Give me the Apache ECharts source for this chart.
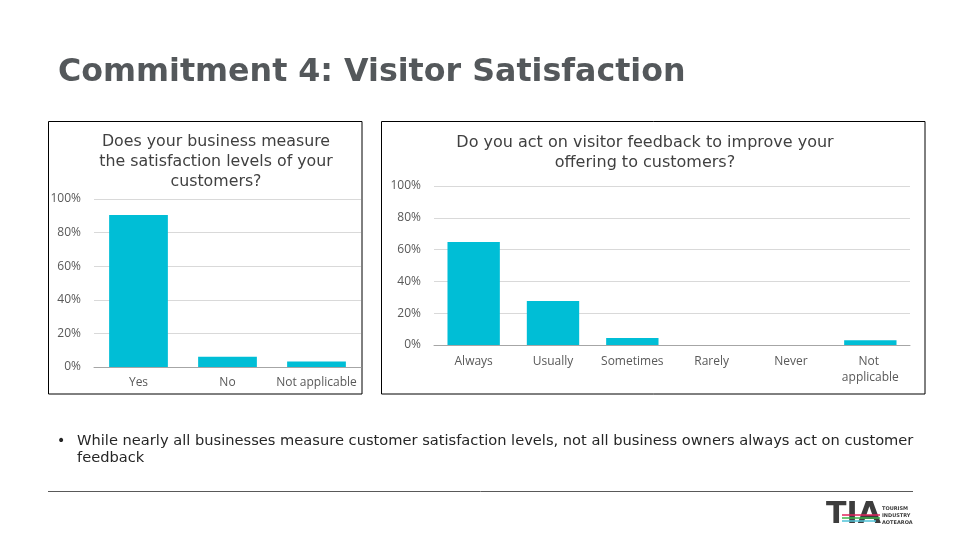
<!DOCTYPE html>
<html>
<head>
<meta charset="utf-8">
<script src="https://cdn.jsdelivr.net/npm/echarts@6/dist/echarts.min.js"></script>
<style>html,body{margin:0;padding:0;background:#fff}#c{width:960px;height:540px}</style>
</head>
<body>
<div id="c"></div>
<script>
const leftCategories = ['Yes', 'No', 'Not applicable'];
const leftValues = [0.905, 0.061, 0.033];
const rightCategories = ['Always', 'Usually', 'Sometimes', 'Rarely', 'Never', 'Not applicable'];
const rightValues = [0.648, 0.276, 0.044, 0, 0, 0.03];
const yTicks = [0, 0.2, 0.4, 0.6, 0.8, 1];

const barColor = '#00BED6';
const labelColor = '#595959';
const chartFont = '"Open Sans"';
const titleFont = '"DejaVu Sans"';

const chart = echarts.init(document.getElementById('c'));
const pct = v => Math.round(v * 100) + '%';

chart.setOption({
  animation: false,
  backgroundColor: '#fff',
  title: [
    {
      text: 'Does your business measure\nthe satisfaction levels of your\ncustomers?',
      left: 211, top: 127, textAlign: 'center',
      textStyle: { fontFamily: titleFont, fontSize: 15.8, fontWeight: 'normal', color: '#404040', lineHeight: 20 }
    },
    {
      text: 'Do you act on visitor feedback to improve your\noffering to customers?',
      left: 640, top: 128, textAlign: 'center',
      textStyle: { fontFamily: titleFont, fontSize: 16, fontWeight: 'normal', color: '#404040', lineHeight: 20 }
    }
  ],
  grid: [
    { left: 94, right: 599, top: 199, bottom: 173 },
    { left: 434, right: 50, top: 186, bottom: 195 }
  ],
  xAxis: [
    {
      gridIndex: 0, type: 'category', data: leftCategories,
      axisLine: { lineStyle: { color: '#a6a6a6' } },
      axisTick: { lineStyle: { color: '#a6a6a6' }, length: 4 },
      axisLabel: { color: labelColor, fontFamily: chartFont, fontSize: 12, margin: 10, interval: 0 }
    },
    {
      gridIndex: 1, type: 'category', data: rightCategories,
      axisLine: { lineStyle: { color: '#a6a6a6' } },
      axisTick: { lineStyle: { color: '#a6a6a6' }, length: 4 },
      axisLabel: { color: labelColor, fontFamily: chartFont, fontSize: 12, margin: 9, interval: 0, width: 72, overflow: 'break', lineHeight: 16 }
    }
  ],
  yAxis: [0, 1].map(i => ({
    gridIndex: i, type: 'value', min: yTicks[0], max: yTicks[yTicks.length - 1], interval: yTicks[1] - yTicks[0],
    axisLine: { show: false }, axisTick: { show: false },
    splitLine: { lineStyle: { color: '#d9d9d9' } },
    axisLabel: { color: labelColor, fontFamily: chartFont, fontSize: 12, margin: 13, formatter: pct }
  })),
  series: [
    { type: 'bar', xAxisIndex: 0, yAxisIndex: 0, data: leftValues, barCategoryGap: '34%', itemStyle: { color: barColor } },
    { type: 'bar', xAxisIndex: 1, yAxisIndex: 1, data: rightValues, barCategoryGap: '34%', itemStyle: { color: barColor } }
  ],
  graphic: [
    { type: 'text', left: 58, top: 57, style: { text: 'Commitment 4: Visitor Satisfaction', font: 'bold 31.7px "DejaVu Sans"', fill: '#54585B' } },
    { type: 'rect', shape: { x: 48.5, y: 121.5, width: 313.5, height: 272.5 }, style: { fill: 'none', stroke: '#000', lineWidth: 1 } },
    { type: 'rect', shape: { x: 381.5, y: 121.5, width: 543.5, height: 272.5 }, style: { fill: 'none', stroke: '#000', lineWidth: 1 } },
    { type: 'text', left: 57, top: 434, style: { text: '•', font: '14px "DejaVu Sans"', fill: '#262626' } },
    { type: 'text', left: 77, top: 433, style: { text: 'While nearly all businesses measure customer satisfaction levels, not all business owners always act on customer\nfeedback', font: '14.65px "DejaVu Sans"', fill: '#262626', lineHeight: 17 } },
    { type: 'line', shape: { x1: 48, y1: 491.5, x2: 913, y2: 491.5 }, style: { stroke: '#595959', lineWidth: 1 } },
    { type: 'text', left: 826, top: 500, style: { text: 'TIA', font: 'bold 30px "DejaVu Sans"', fill: '#3d3d3d' } },
    { type: 'line', shape: { x1: 842, y1: 515, x2: 880, y2: 515 }, style: { stroke: '#e0245e', lineWidth: 1.5 } },
    { type: 'line', shape: { x1: 842, y1: 518, x2: 880, y2: 518 }, style: { stroke: '#3cb44b', lineWidth: 1.5 } },
    { type: 'line', shape: { x1: 842, y1: 521, x2: 876, y2: 521 }, style: { stroke: '#4fc3d9', lineWidth: 1.5 } },
    { type: 'text', left: 882, top: 505, style: { text: 'TOURISM\nINDUSTRY\nAOTEAROA', font: 'bold 5px "DejaVu Sans"', fill: '#3d3d3d', lineHeight: 7 } }
  ]
});
</script>
</body>
</html>
